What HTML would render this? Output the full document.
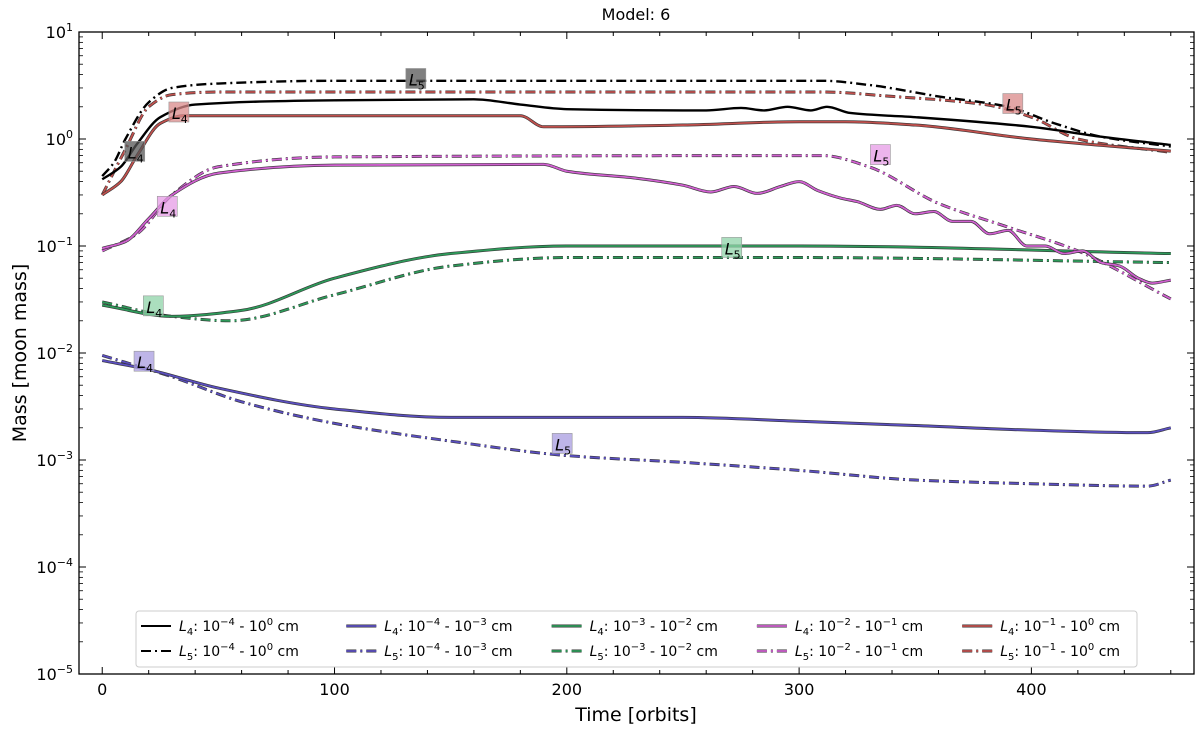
<!DOCTYPE html>
<html><head><meta charset="utf-8"><style>
body{margin:0;background:#fff}
svg text{font-family:"DejaVu Sans","Liberation Sans",sans-serif}
</style></head><body>
<svg id="chart" width="1200" height="728" viewBox="0 0 1200 728" xmlns="http://www.w3.org/2000/svg">
<text x="636" y="20" font-size="16" text-anchor="middle">Model: 6</text>
<text x="636" y="721" font-size="19" text-anchor="middle">Time [orbits]</text>
<text transform="translate(26,353) rotate(-90)" font-size="19" text-anchor="middle">Mass [moon mass]</text>
<g id="ticks"></g>
<g id="series"></g>
<g id="labels"></g>
<rect x="79" y="32" width="1115" height="642" fill="none" stroke="#000" stroke-width="1.3"/>
<g id="legend"></g>
</svg>
<script>
const xTicks=[0,100,200,300,400];
const yTickExp=[1,0,-1,-2,-3,-4,-5];
const tBlackL4=[0,8,15,25,40,100,160,180,200,250,260,275,285,295,305,312,322,350,400,430,460];
const vBlackL4=[0.42,0.55,0.9,1.6,2.1,2.3,2.35,2.1,1.9,1.85,1.85,1.95,1.85,2.0,1.85,2.0,1.75,1.6,1.3,1.05,0.88];
const tBlackL5=[0,5,10,20,30,50,100,310,330,360,390,410,430,460];
const vBlackL5=[0.45,0.6,1.0,2.2,3.0,3.3,3.5,3.5,3.2,2.5,2.0,1.4,1.05,0.85];
const tRedL4=[0,8,15,25,35,180,190,250,300,320,350,400,460];
const vRedL4=[0.3,0.4,0.7,1.4,1.65,1.65,1.3,1.35,1.45,1.45,1.35,1.0,0.77];
const tRedL5=[0,10,20,30,50,310,340,380,400,420,460];
const vRedL5=[0.3,0.8,2.0,2.6,2.75,2.75,2.5,2.1,1.6,1.0,0.75];
const tMagL4=[0,10,20,30,50,100,190,200,230,250,262,272,282,292,300,308,318,325,335,342,350,358,366,374,382,390,398,406,414,422,430,438,446,452,460];
const vMagL4=[0.095,0.11,0.18,0.3,0.48,0.57,0.58,0.5,0.43,0.37,0.32,0.36,0.31,0.36,0.40,0.33,0.28,0.26,0.22,0.24,0.20,0.21,0.17,0.17,0.13,0.14,0.10,0.10,0.085,0.09,0.07,0.065,0.05,0.045,0.048];
const tMagL5=[0,15,30,50,100,310,330,360,390,420,460];
const vMagL5=[0.09,0.13,0.3,0.55,0.68,0.7,0.55,0.25,0.15,0.09,0.032];
const tGreenL4=[0,30,60,100,150,200,300,460];
const vGreenL4=[0.028,0.022,0.025,0.05,0.085,0.1,0.1,0.085];
const tGreenL5=[0,30,55,100,150,200,300,460];
const vGreenL5=[0.03,0.022,0.02,0.035,0.065,0.078,0.078,0.07];
const tBlueL4=[0,20,50,100,150,200,250,300,350,400,450,460];
const vBlueL4=[0.0085,0.007,0.0047,0.003,0.0025,0.0025,0.0025,0.0023,0.0021,0.0019,0.0018,0.002];
const tBlueL5=[0,30,60,100,150,200,250,300,350,400,450,460];
const vBlueL5=[0.0095,0.006,0.0035,0.0022,0.0015,0.0011,0.00095,0.0008,0.00065,0.0006,0.00057,0.00065];
const labelNames=["L5","L4","L4","L5","L4","L5","L4","L5","L4","L5"];
const labelT=[135,14,33,392,28,335,22,271,18,198];
const labelV=[3.6,0.75,1.75,2.1,0.23,0.7,0.027,0.095,0.0082,0.0014];
const labelColors=["#555","#555","#d98a8a","#d98a8a","#e59be5","#e59be5","#8fd3a8","#8fd3a8","#a89ce0","#a89ce0"];
const legendSub=["4","5","4","5","4","5","4","5","4","5"];
const legendRange=[["-4","0"],["-4","0"],["-4","-3"],["-4","-3"],["-3","-2"],["-3","-2"],["-2","-1"],["-2","-1"],["-1","0"],["-1","0"]];

const X0=79,X1=1194,Y0=32,Y1=674,XMIN=-10,XMAX=470,LMIN=-5,LMAX=1;
const xs=t=>X0+(t-XMIN)/(XMAX-XMIN)*(X1-X0);
const ys=v=>Y1-(Math.log10(v)-LMIN)/(LMAX-LMIN)*(Y1-Y0);
const NS="http://www.w3.org/2000/svg";
function mk(tag,attrs,parent){const e=document.createElementNS(NS,tag);for(const k in attrs)e.setAttribute(k,attrs[k]);parent.appendChild(e);return e;}
const tk=document.getElementById('ticks');
for(let t=0;t<=460;t+=20){const x=xs(t);const maj=t%100===0;const L=maj?7:4;
 const a=mk('line',{x1:x,y1:Y1,x2:x,y2:Y1-L,stroke:'#000','stroke-width':1},tk);
 
 
 mk('line',{x1:x,y1:Y0,x2:x,y2:Y0+L,stroke:'#000','stroke-width':1},tk);}
xTicks.forEach(t=>{const e=mk('text',{x:xs(t),y:Y1+21,'font-size':16,'text-anchor':'middle'},tk);e.textContent=t;
 
 });
for(let d=-5;d<1;d++){for(let m=2;m<=9;m++){const y=ys(m*Math.pow(10,d));
 mk('line',{x1:X0,y1:y,x2:X0+4,y2:y,stroke:'#000','stroke-width':0.8},tk);
 mk('line',{x1:X1,y1:y,x2:X1-4,y2:y,stroke:'#000','stroke-width':0.8},tk);}}
yTickExp.forEach(p=>{const y=ys(Math.pow(10,p));
 mk('line',{x1:X0,y1:y,x2:X0+7,y2:y,stroke:'#000','stroke-width':1},tk);
 mk('line',{x1:X1,y1:y,x2:X1-7,y2:y,stroke:'#000','stroke-width':1},tk);
 const e=mk('text',{x:X0-6,y:y+6,'font-size':16,'text-anchor':'end'},tk);
 
 
 e.innerHTML='10<tspan dy="-7" font-size="11">'+(p<0?'\u2212'+(-p):p)+'</tspan>';});
// monotone cubic (Fritsch-Carlson) in pixel space
function pathD(ts,vs){const X=ts.map(xs),Y=vs.map(ys),n=X.length;
 const h=[],s=[];for(let i=0;i<n-1;i++){h.push(X[i+1]-X[i]);s.push((Y[i+1]-Y[i])/h[i]);}
 const m=new Array(n);m[0]=s[0];m[n-1]=s[n-2];
 for(let i=1;i<n-1;i++){if(s[i-1]*s[i]<=0)m[i]=0;else{const w1=2*h[i]+h[i-1],w2=h[i]+2*h[i-1];m[i]=(w1+w2)/(w1/s[i-1]+w2/s[i]);}}
 let d='M'+X[0]+','+Y[0];
 for(let i=0;i<n-1;i++){const dx=h[i]/3;d+=' C'+(X[i]+dx)+','+(Y[i]+m[i]*dx)+' '+(X[i+1]-dx)+','+(Y[i+1]-m[i+1]*dx)+' '+X[i+1]+','+Y[i+1];}
 return d;}
const sg=document.getElementById('series');
const SERIES=[
 [tGreenL5,vGreenL5,'#2e9a5a',true,'green-l5-line'],[tGreenL4,vGreenL4,'#2e9a5a',false,'green-l4-line'],
 [tBlueL5,vBlueL5,'#5b4fc0',true,'blue-l5-line'],[tBlueL4,vBlueL4,'#5b4fc0',false,'blue-l4-line'],
 [tMagL5,vMagL5,'#d060d0',true,'magenta-l5-line'],[tMagL4,vMagL4,'#d060d0',false,'magenta-l4-line'],
 [tRedL5,vRedL5,'#c0504d',true,'red-l5-line'],[tRedL4,vRedL4,'#c0504d',false,'red-l4-line'],
 [tBlackL5,vBlackL5,'#000',true,'black-l5-line'],[tBlackL4,vBlackL4,'#000',false,'black-l4-line']];
SERIES.forEach(s=>{const d=pathD(s[0],s[1]);const dash=s[3]?'10,4,2,4':'none';
 if(s[2]!=='#000'){mk('path',{d:d,fill:'none',stroke:'#333','stroke-width':3,'stroke-dasharray':dash},sg);}
 const p=mk('path',{d:d,fill:'none',stroke:s[2],'stroke-width':s[2]==='#000'?2.4:1.8,'stroke-dasharray':dash},sg);
 
 });
const lg=document.getElementById('labels');
labelT.forEach((t,i)=>{const x=xs(t),y=ys(labelV[i]);
 const g=mk('g',{},lg);
 
 
 mk('rect',{x:x-10,y:y-11,width:20,height:20,fill:labelColors[i],'fill-opacity':0.75,stroke:'#999','stroke-width':0.6},g);
 const e=mk('text',{x:x-7,y:y+6,'font-size':16,'font-style':'italic'},g);
 e.innerHTML='L<tspan dy="4" font-size="11" font-style="normal">'+labelNames[i].slice(1)+'</tspan>';});
const leg=document.getElementById('legend');
const lb=mk('rect',{x:136,y:611,width:1001,height:56,rx:3,fill:'#fff','fill-opacity':0.85,stroke:'#ccc','stroke-width':1},leg);


const legColors=['#000','#5b4fc0','#2e9a5a','#d060d0','#c0504d'];
legendSub.forEach((s,i)=>{const col=Math.floor(i/2),row=i%2;const x=141+col*205.3,y=626+row*25;
 const g=mk('g',{},leg);
 
 
 const c=legColors[col];const dash=row?'10,4,2,4':'none';
 if(c!=='#000')mk('line',{x1:x,y1:y,x2:x+30,y2:y,stroke:'#333','stroke-width':3,'stroke-dasharray':dash},g);
 mk('line',{x1:x,y1:y,x2:x+30,y2:y,stroke:c,'stroke-width':c==='#000'?2:1.8,'stroke-dasharray':dash},g);
 const r=legendRange[i];
 const e=mk('text',{x:x+38,y:y+5,'font-size':14},g);
 e.innerHTML='<tspan font-style="italic">L</tspan><tspan dy="4" font-size="10">'+s+'</tspan><tspan dy="-4">: 10</tspan><tspan dy="-6" font-size="10">'+r[0].replace('-','\u2212')+'</tspan><tspan dy="6"> - 10</tspan><tspan dy="-6" font-size="10">'+r[1].replace('-','\u2212')+'</tspan><tspan dy="6"> cm</tspan>';});
</script>
</body></html>
